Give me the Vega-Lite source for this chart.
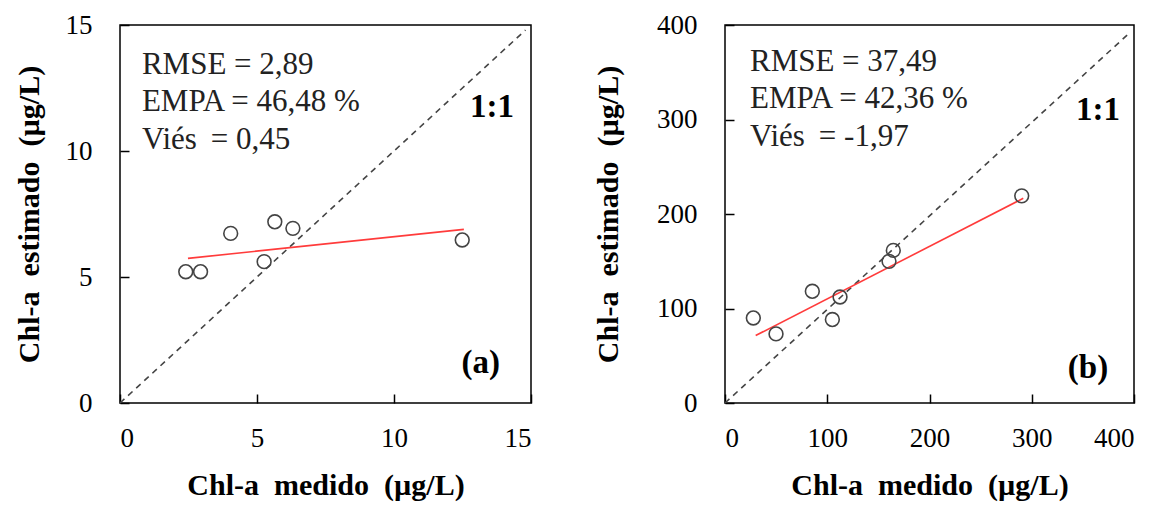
{
  "$schema": "https://vega.github.io/schema/vega-lite/v6.json",
  "padding": {"left": 13, "top": 10, "right": 5, "bottom": 5},
  "background": "white",
  "config": {
    "view": {"stroke": "black", "strokeWidth": 1.5},
    "font": "Liberation Serif",
    "axis": {
      "labelFont": "Liberation Serif",
      "labelFontSize": 27,
      "labelColor": "black",
      "titleFont": "Liberation Serif",
      "titleFontSize": 30,
      "titleFontWeight": "bold",
      "titleColor": "black",
      "grid": false,
      "domain": false,
      "tickColor": "black",
      "tickWidth": 1.5,
      "tickSize": -9,
      "labelPadding": 37
    }
  },
  "datasets": {
    "ptsA": [
      {"medido": 2.4, "estimado": 5.21},
      {"medido": 2.94, "estimado": 5.21},
      {"medido": 4.04, "estimado": 6.73},
      {"medido": 5.65, "estimado": 7.19},
      {"medido": 6.31, "estimado": 6.93},
      {"medido": 5.26, "estimado": 5.61},
      {"medido": 12.49, "estimado": 6.47}
    ],
    "fitA": [
      {"medido": 2.48, "estimado": 5.74},
      {"medido": 12.55, "estimado": 6.89}
    ],
    "oneA": [
      {"medido": 0, "estimado": 0},
      {"medido": 14.8, "estimado": 14.8}
    ],
    "ptsB": [
      {"medido": 27.7, "estimado": 90.0},
      {"medido": 49.9, "estimado": 73.1},
      {"medido": 85.4, "estimado": 118.2},
      {"medido": 105, "estimado": 88.3},
      {"medido": 112.5, "estimado": 112.2},
      {"medido": 160.4, "estimado": 149.9},
      {"medido": 164.6, "estimado": 161.5},
      {"medido": 290.2, "estimado": 219.2}
    ],
    "fitB": [
      {"medido": 30, "estimado": 71.4},
      {"medido": 291.7, "estimado": 216.6}
    ],
    "oneB": [
      {"medido": 0, "estimado": 0},
      {"medido": 396, "estimado": 392}
    ],
    "notesA": [
      {"t": "RMSE = 2,89"},
      {"t": "EMPA = 46,48 %"},
      {"t": "Viés \u2009= 0,45"},
      {"t": "1:1"},
      {"t": "(a)"}
    ],
    "notesB": [
      {"t": "RMSE = 37,49"},
      {"t": "EMPA = 42,36 %"},
      {"t": "Viés \u2009= -1,97"},
      {"t": "1:1"},
      {"t": "(b)"}
    ]
  },
  "spacing": 59,
  "hconcat": [
    {
      "width": 411,
      "height": 378,
      "layer": [
        {"data": {"name": "oneA"}, "mark": {"type": "line", "color": "#444444", "strokeWidth": 1.6, "strokeDash": [6, 5]},
         "encoding": {
           "x": {"field": "medido", "type": "quantitative", "title": "Chl-a\u2002medido\u2002(µg/L)", "scale": {"domain": [0, 15], "nice": false}, "axis": {"values": [0, 5, 10, 15], "titlePadding": 19, "labelPadding": 31}},
           "y": {"field": "estimado", "type": "quantitative", "title": "Chl-a\u2002estimado\u2002(µg/L)", "scale": {"domain": [0, 15], "nice": false}, "axis": {"values": [0, 5, 10, 15], "titlePadding": 21}}
         }},
        {"data": {"name": "fitA"}, "mark": {"type": "line", "color": "#ff3b3b", "strokeWidth": 1.6},
         "encoding": {"x": {"field": "medido", "type": "quantitative"}, "y": {"field": "estimado", "type": "quantitative"}}},
        {"data": {"name": "ptsA"}, "mark": {"type": "point", "shape": "circle", "filled": false, "size": 190, "stroke": "#444444", "strokeWidth": 1.6, "opacity": 1},
         "encoding": {"x": {"field": "medido", "type": "quantitative"}, "y": {"field": "estimado", "type": "quantitative"}}},
        {"data": {"name": "notesA"}, "transform": [{"filter": "datum.t == 'RMSE = 2,89'"}], "mark": {"type": "text", "align": "left", "baseline": "middle", "fontSize": 31, "color": "#222222"},
         "encoding": {"text": {"field": "t"}, "x": {"datum": 0.8, "type": "quantitative"}, "y": {"datum": 13.41, "type": "quantitative"}}},
        {"data": {"name": "notesA"}, "transform": [{"filter": "datum.t == 'EMPA = 46,48 %'"}], "mark": {"type": "text", "align": "left", "baseline": "middle", "fontSize": 31, "color": "#222222"},
         "encoding": {"text": {"field": "t"}, "x": {"datum": 0.8, "type": "quantitative"}, "y": {"datum": 11.94, "type": "quantitative"}}},
        {"data": {"name": "notesA"}, "transform": [{"filter": "indexof(datum.t, 'Vi') == 0"}], "mark": {"type": "text", "align": "left", "baseline": "middle", "fontSize": 31, "color": "#222222"},
         "encoding": {"text": {"field": "t"}, "x": {"datum": 0.8, "type": "quantitative"}, "y": {"datum": 10.44, "type": "quantitative"}}},
        {"data": {"name": "notesA"}, "transform": [{"filter": "datum.t == '1:1'"}], "mark": {"type": "text", "align": "center", "baseline": "middle", "fontSize": 33, "fontWeight": "bold", "color": "black"},
         "encoding": {"text": {"field": "t"}, "x": {"datum": 13.58, "type": "quantitative"}, "y": {"datum": 11.75, "type": "quantitative"}}},
        {"data": {"name": "notesA"}, "transform": [{"filter": "datum.t == '(a)'"}], "mark": {"type": "text", "align": "center", "baseline": "middle", "fontSize": 33, "fontWeight": "bold", "color": "black"},
         "encoding": {"text": {"field": "t"}, "x": {"datum": 13.17, "type": "quantitative"}, "y": {"datum": 1.59, "type": "quantitative"}}}
      ]
    },
    {
      "width": 409,
      "height": 378,
      "layer": [
        {"data": {"name": "oneB"}, "mark": {"type": "line", "color": "#444444", "strokeWidth": 1.6, "strokeDash": [6, 5]},
         "encoding": {
           "x": {"field": "medido", "type": "quantitative", "title": "Chl-a\u2002medido\u2002(µg/L)", "scale": {"domain": [0, 400], "nice": false}, "axis": {"values": [0, 100, 200, 300, 400], "titlePadding": 19, "labelPadding": 31}},
           "y": {"field": "estimado", "type": "quantitative", "title": "Chl-a\u2002estimado\u2002(µg/L)", "scale": {"domain": [0, 400], "nice": false}, "axis": {"values": [0, 100, 200, 300, 400], "titlePadding": 33}}
         }},
        {"data": {"name": "fitB"}, "mark": {"type": "line", "color": "#ff3b3b", "strokeWidth": 1.6},
         "encoding": {"x": {"field": "medido", "type": "quantitative"}, "y": {"field": "estimado", "type": "quantitative"}}},
        {"data": {"name": "ptsB"}, "mark": {"type": "point", "shape": "circle", "filled": false, "size": 190, "stroke": "#444444", "strokeWidth": 1.6, "opacity": 1},
         "encoding": {"x": {"field": "medido", "type": "quantitative"}, "y": {"field": "estimado", "type": "quantitative"}}},
        {"data": {"name": "notesB"}, "transform": [{"filter": "datum.t == 'RMSE = 37,49'"}], "mark": {"type": "text", "align": "left", "baseline": "middle", "fontSize": 31, "color": "#222222"},
         "encoding": {"text": {"field": "t"}, "x": {"datum": 24.4, "type": "quantitative"}, "y": {"datum": 361, "type": "quantitative"}}},
        {"data": {"name": "notesB"}, "transform": [{"filter": "datum.t == 'EMPA = 42,36 %'"}], "mark": {"type": "text", "align": "left", "baseline": "middle", "fontSize": 31, "color": "#222222"},
         "encoding": {"text": {"field": "t"}, "x": {"datum": 24.4, "type": "quantitative"}, "y": {"datum": 322, "type": "quantitative"}}},
        {"data": {"name": "notesB"}, "transform": [{"filter": "indexof(datum.t, 'Vi') == 0"}], "mark": {"type": "text", "align": "left", "baseline": "middle", "fontSize": 31, "color": "#222222"},
         "encoding": {"text": {"field": "t"}, "x": {"datum": 24.4, "type": "quantitative"}, "y": {"datum": 282, "type": "quantitative"}}},
        {"data": {"name": "notesB"}, "transform": [{"filter": "datum.t == '1:1'"}], "mark": {"type": "text", "align": "center", "baseline": "middle", "fontSize": 33, "fontWeight": "bold", "color": "black"},
         "encoding": {"text": {"field": "t"}, "x": {"datum": 364.8, "type": "quantitative"}, "y": {"datum": 310, "type": "quantitative"}}},
        {"data": {"name": "notesB"}, "transform": [{"filter": "datum.t == '(b)'"}], "mark": {"type": "text", "align": "center", "baseline": "middle", "fontSize": 33, "fontWeight": "bold", "color": "black"},
         "encoding": {"text": {"field": "t"}, "x": {"datum": 355, "type": "quantitative"}, "y": {"datum": 37, "type": "quantitative"}}}
      ]
    }
  ]
}
